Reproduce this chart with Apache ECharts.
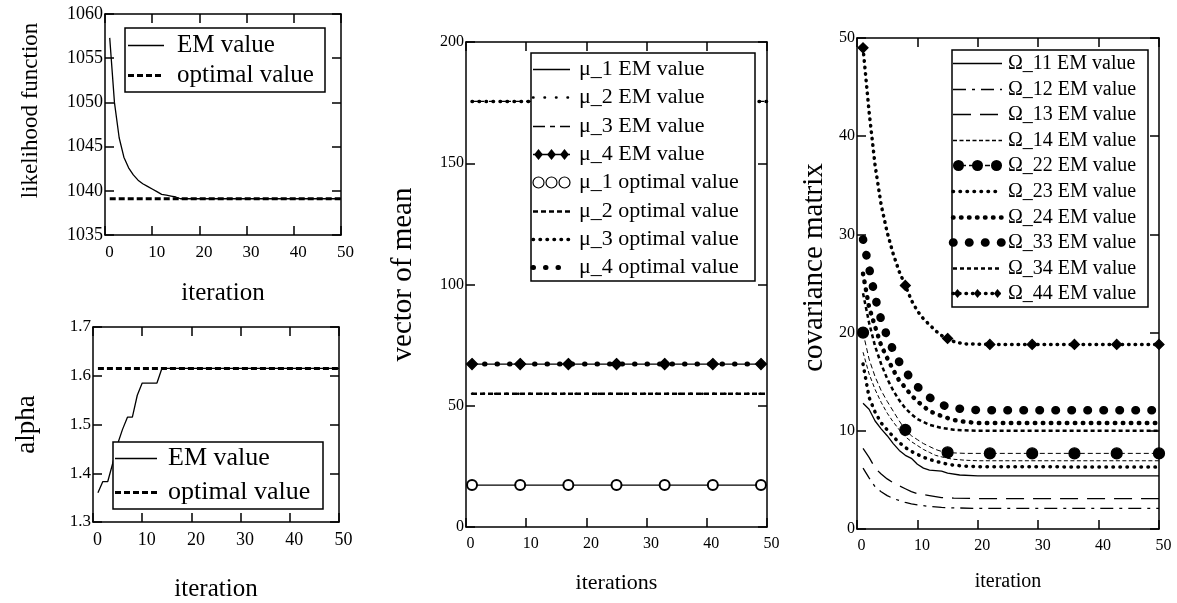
<!DOCTYPE html>
<html>
<head>
<meta charset="utf-8">
<script src="https://cdn.jsdelivr.net/npm/echarts@6/dist/echarts.min.js"></script>
<style>
  html, body { margin: 0; padding: 0; background: #fff; }
  #chart { width: 1177px; height: 603px; }
</style>
</head>
<body>
<div id="chart"></div>
<script>
// ---- values ----
const iterFirst = 1;
const iterLast = 50;

// likelihood function, EM value per iteration
const likeEM = [[1,1057.3],[2,1050.0],[3,1046.0],[4,1043.8],[5,1042.6],[6,1041.8],[7,1041.2],[8,1040.8],
  [9,1040.5],[10,1040.2],[11,1039.9],[12,1039.6],[13,1039.5],[14,1039.4],[15,1039.3],[16,1039.1],[50,1039.1]];
const likeOpt = 1039.1;

// alpha, EM value per iteration
const alphaEM = [[1,1.36],[2,1.383],[3,1.383],[4,1.42],[5,1.46],[6,1.49],[7,1.515],[8,1.515],[9,1.56],
  [10,1.585],[11,1.585],[12,1.585],[13,1.585],[14,1.615],[50,1.615]];
const alphaOpt = 1.615;

// vector of mean (EM values are flat from the first iteration)
const muNames = ['μ_1', 'μ_2', 'μ_3', 'μ_4'];
const muEM = [17.3, 55.0, 175.5, 67.2];
const muOpt = [17.3, 55.0, 175.5, 67.2];
const muMarkIter = [1, 9, 17, 25, 33, 41, 49];

// covariance matrix, EM values per iteration
const omegaNames = ['Ω_11', 'Ω_12', 'Ω_13', 'Ω_14', 'Ω_22', 'Ω_23', 'Ω_24', 'Ω_33', 'Ω_34', 'Ω_44'];
const omega11 = [[1,12.8],[2,12.2],[3,11.0],[4,10.2],[5,9.5],[6,8.7],[7,8.0],[8,7.5],[9,7.2],[10,6.6],
  [11,6.2],[12,6.0],[14,5.9],[15,5.7],[17,5.5],[20,5.4],[50,5.4]];
const omega12 = [[1,6.2],[2,5.2],[3,4.3],[4,3.8],[5,3.4],[6,3.1],[7,2.9],[8,2.7],[9,2.55],[10,2.45],
  [12,2.3],[14,2.2],[16,2.15],[20,2.1],[50,2.1]];
const omega13 = [[1,8.2],[2,7.3],[3,6.2],[4,5.6],[5,5.1],[6,4.7],[7,4.4],[8,4.1],[9,3.8],[10,3.6],
  [12,3.4],[14,3.2],[16,3.15],[20,3.1],[50,3.1]];
const omega14 = [[1,18.0],[2,15.8],[3,14.2],[4,12.9],[5,11.8],[6,10.9],[7,10.1],[8,9.4],[9,8.9],[10,8.5],
  [11,8.1],[12,7.8],[13,7.5],[14,7.35],[15,7.2],[16,7.1],[18,7.0],[20,6.95],[50,6.95]];
const omega22 = [[1,20.0],[2,17.3],[3,15.5],[4,14.1],[5,13.0],[6,12.0],[7,11.0],[8,10.1],[9,9.5],[10,9.1],
  [11,8.7],[12,8.4],[13,8.1],[14,7.9],[15,7.8],[16,7.75],[18,7.7],[22,7.7],[29,7.7],[36,7.7],[43,7.7],[50,7.7]];
const omega23 = [[1,16.8],[2,13.4],[3,11.9],[4,10.8],[5,10.1],[6,9.4],[7,8.8],[8,8.3],[9,7.9],[10,7.6],
  [11,7.3],[12,7.1],[13,6.9],[14,6.75],[15,6.6],[16,6.5],[18,6.4],[20,6.35],[50,6.3]];
const omega24 = [[1,26.0],[2,22.6],[3,20.6],[4,18.7],[5,17.4],[6,16.2],[7,15.1],[8,14.4],[9,13.6],[10,13.0],
  [12,12.0],[14,11.5],[16,11.1],[18,10.9],[20,10.8],[50,10.8]];
const omega33 = [[1,29.5],[2,26.6],[3,23.6],[4,21.3],[5,19.6],[6,18.2],[7,17.0],[8,16.1],[9,15.2],[10,14.5],
  [11,13.9],[12,13.4],[13,13.0],[14,12.7],[15,12.4],[16,12.3],[18,12.2],[20,12.1],[50,12.1]];
const omega34 = [[1,24.0],[2,21.0],[3,18.6],[4,16.8],[5,15.3],[6,14.1],[7,13.1],[8,12.3],[9,11.7],[10,11.2],
  [12,10.6],[14,10.3],[16,10.1],[20,10.0],[50,10.0]];
const omega44 = [[1,49.0],[2,42.5],[3,37.0],[4,33.0],[5,30.2],[6,28.0],[7,26.2],[8,24.8],[9,23.3],[10,22.2],
  [11,21.4],[12,20.8],[13,20.2],[14,19.7],[15,19.4],[16,19.1],[17,18.95],[18,18.85],[22,18.8],[29,18.8],
  [36,18.8],[43,18.8],[50,18.8]];
const omegaMarkIter = [1, 8, 15, 22, 29, 36, 43, 50];

// ---- helpers ----
const FONT = '"Liberation Serif", "Times New Roman", serif';
const black = '#000';
const plainNum = v => String(+v.toFixed(6));   // no thousands separator

// 4 axes per grid: bottom/top x, left/right y, ticks inside like the original
function xAxes(g, labelSize, name, nameSize, nameGap) {
  const base = {
    gridIndex: g, type: 'value', min: 0, max: 50, interval: 10,
    axisLine: { show: true, onZero: false, lineStyle: { color: black, width: 1.5 } },
    axisTick: { show: true, inside: true, length: 9, lineStyle: { color: black, width: 1.5 } },
    splitLine: { show: false }
  };
  return [
    Object.assign({}, base, {
      position: 'bottom', name: name, nameLocation: 'middle', nameGap: nameGap,
      nameTextStyle: { fontFamily: FONT, fontSize: nameSize, color: black },
      axisLabel: { fontFamily: FONT, fontSize: labelSize, color: black, margin: 9, padding: [0, 0, 0, 9], formatter: plainNum }
    }),
    Object.assign({}, base, { position: 'top', axisLabel: { show: false } })
  ];
}
function yAxes(g, min, max, interval, labelSize, name, nameSize, nameGap, nameShift) {
  const base = {
    gridIndex: g, type: 'value', min: min, max: max, interval: interval,
    axisLine: { show: true, onZero: false, lineStyle: { color: black, width: 1.5 } },
    axisTick: { show: true, inside: true, length: 9, lineStyle: { color: black, width: 1.5 } },
    splitLine: { show: false }
  };
  return [
    Object.assign({}, base, {
      position: 'left', name: name, nameLocation: 'middle', nameGap: nameGap,
      nameTextStyle: { fontFamily: FONT, fontSize: nameSize, color: black, padding: [0, 0, 0, nameShift] },
      axisLabel: { fontFamily: FONT, fontSize: labelSize, color: black, margin: 2, padding: [4, 0, 0, 0], formatter: plainNum }
    }),
    Object.assign({}, base, { position: 'right', axisLabel: { show: false } })
  ];
}

// only the listed iterations keep their symbol
function marked(points, marks) {
  return points.map(p => marks.includes(p[0]) ? { value: p } : { value: p, symbol: 'none' });
}
function flat(v, marks) {
  const xs = [iterFirst].concat(marks || [], [iterLast])
    .filter((x, i, a) => a.indexOf(x) === i).sort((a, b) => a - b);
  return marked(xs.map(x => [x, v]), marks || []);
}

// one row = one series + its legend entry
function toSeries(g, r) {
  return {
    name: r.name, type: 'line', xAxisIndex: 2 * g, yAxisIndex: 2 * g,
    data: r.data, silent: true, showAllSymbol: true,
    symbol: r.mark ? r.mark.symbol : 'none',
    symbolSize: r.mark ? r.mark.size : 0,
    itemStyle: { color: black, borderColor: black, borderWidth: 1.2 },
    lineStyle: r.ls ? Object.assign({ color: black, width: 1.3 }, r.ls) : { opacity: 0 }
  };
}

// legend drawn by hand so the samples look like the original ones
function legendBox(box, y0, pitch, sx0, sx1, tx, fs, rows) {
  const els = [{
    type: 'rect', z: 100, silent: true,
    shape: { x: box[0], y: box[1], width: box[2], height: box[3] },
    style: { fill: '#fff', stroke: black, lineWidth: 1.5 }
  }];
  rows.forEach((r, i) => {
    const cy = Math.round(y0 + i * pitch) + 0.5;
    if (r.ls) {
      els.push({
        type: 'line', z: 101, silent: true,
        shape: { x1: sx0, y1: cy, x2: sx1, y2: cy },
        style: { stroke: black, lineWidth: Math.max(r.ls.width || 1.3, 1.3), lineDash: r.ls.type || null, lineCap: r.ls.cap || 'butt' }
      });
    }
    if (r.mark) {
      const s = r.mark.lsize || r.mark.size;
      for (let k = 0; k < 3; k++) {
        const cx = sx0 + s / 2 + k * (sx1 - sx0 - s) / 2;
        if (r.mark.symbol === 'diamond') {
          els.push({ type: 'polygon', z: 102, silent: true,
            shape: { points: [[cx, cy - s / 2], [cx + s * 0.4, cy], [cx, cy + s / 2], [cx - s * 0.4, cy]] },
            style: { fill: black } });
        } else {
          els.push({ type: 'circle', z: 102, silent: true,
            shape: { cx: cx, cy: cy, r: s / 2 },
            style: r.mark.symbol === 'emptyCircle' ? { fill: '#fff', stroke: black, lineWidth: 1.2 } : { fill: black } });
        }
      }
    }
    els.push({
      type: 'text', z: 102, silent: true, x: tx, y: cy,
      style: { text: r.name, font: fs + 'px ' + FONT, fill: black, align: 'left', verticalAlign: 'middle' }
    });
  });
  return els;
}

const em = ' EM value';
const opt = ' optimal value';
const optDash = { width: 3, type: [6, 3] };

const likeRows = [
  { name: 'EM value', data: likeEM, ls: {} },
  { name: 'optimal value', data: flat(likeOpt), ls: optDash }
];
const alphaRows = [
  { name: 'EM value', data: alphaEM, ls: {} },
  { name: 'optimal value', data: flat(alphaOpt), ls: optDash }
];
const muRows = [
  { name: muNames[0] + em, data: flat(muEM[0]), ls: {} },
  { name: muNames[1] + em, data: flat(muEM[1]), ls: { width: 2.5, type: [0.5, 11], cap: 'round' } },
  { name: muNames[2] + em, data: flat(muEM[2]), ls: { width: 1.4, type: [12, 5, 5, 5] } },
  { name: muNames[3] + em, data: flat(muEM[3], muMarkIter), ls: {}, mark: { symbol: 'diamond', size: 11 } },
  { name: muNames[0] + opt, data: flat(muOpt[0], muMarkIter), ls: null, mark: { symbol: 'emptyCircle', size: 10, lsize: 11 } },
  { name: muNames[1] + opt, data: flat(muOpt[1]), ls: { width: 2.5, type: [5, 3] } },
  { name: muNames[2] + opt, data: flat(muOpt[2]), ls: { width: 3.5, type: [0.5, 6.5], cap: 'round' } },
  { name: muNames[3] + opt, data: flat(muOpt[3]), ls: { width: 5, type: [0.5, 12], cap: 'round' } }
];
const omegaRows = [
  { name: omegaNames[0] + em, data: omega11, ls: {} },
  { name: omegaNames[1] + em, data: omega12, ls: { type: [13, 6, 3, 6] } },
  { name: omegaNames[2] + em, data: omega13, ls: { type: [18, 9] } },
  { name: omegaNames[3] + em, data: omega14, ls: { width: 1, type: [4, 2.5] } },
  { name: omegaNames[4] + em, data: marked(omega22, omegaMarkIter), ls: { width: 1, type: [5, 3] },
    mark: { symbol: 'circle', size: 11 } },
  { name: omegaNames[5] + em, data: omega23, ls: { width: 3.5, type: [0.5, 6.5], cap: 'round' } },
  { name: omegaNames[6] + em, data: omega24, ls: { width: 4.5, type: [0.5, 7.5], cap: 'round' } },
  { name: omegaNames[7] + em, data: omega33, ls: { width: 8.5, type: [0.5, 15.5], cap: 'round' } },
  { name: omegaNames[8] + em, data: omega34, ls: { width: 2.5, type: [4, 3] } },
  { name: omegaNames[9] + em, data: marked(omega44, omegaMarkIter), ls: { width: 3.5, type: [0.5, 6], cap: 'round' },
    mark: { symbol: 'diamond', size: 10, lsize: 9 } }
];

const series = [].concat(
  likeRows.map(r => toSeries(0, r)),
  alphaRows.map(r => toSeries(1, r)),
  muRows.map(r => toSeries(2, r)),
  omegaRows.map(r => toSeries(3, r))
);

const chart = echarts.init(document.getElementById('chart'));
chart.setOption({
  animation: false,
  backgroundColor: '#fff',
  grid: [
    { left: 105, top: 14, width: 236, height: 221, show: false },
    { left: 93, top: 327, width: 246, height: 197, show: false },
    { left: 466, top: 42, width: 301, height: 485, show: false },
    { left: 857, top: 38, width: 302, height: 491, show: false }
  ],
  xAxis: [].concat(
    xAxes(0, 17, 'iteration', 25, 46),
    xAxes(1, 18, 'iteration', 25, 55),
    xAxes(2, 16, 'iterations', 22, 45),
    xAxes(3, 16, 'iteration', 20, 43)
  ),
  yAxis: [].concat(
    yAxes(0, 1035, 1060, 5, 18, 'likelihood function', 23, 63, 28),
    yAxes(1, 1.3, 1.7, 0.1, 17, 'alpha', 27, 53, 0),
    yAxes(2, 0, 200, 50, 16, 'vector of mean', 29, 48, 20),
    yAxes(3, 0, 50, 10, 16, 'covariance matrix', 29, 28, 32)
  ),
  graphic: [].concat(
    legendBox([125, 28, 200, 64], 45, 30, 128, 164, 177, 25, likeRows),
    legendBox([113, 442, 210, 67], 458, 34, 115, 157, 168, 26, alphaRows),
    legendBox([531, 53, 224, 228], 69, 28.3, 533, 570, 579, 22, muRows),
    legendBox([952, 50, 196, 257], 63, 25.6, 953, 1002, 1008, 20, omegaRows)
  ),
  series: series
});
</script>
</body>
</html>
